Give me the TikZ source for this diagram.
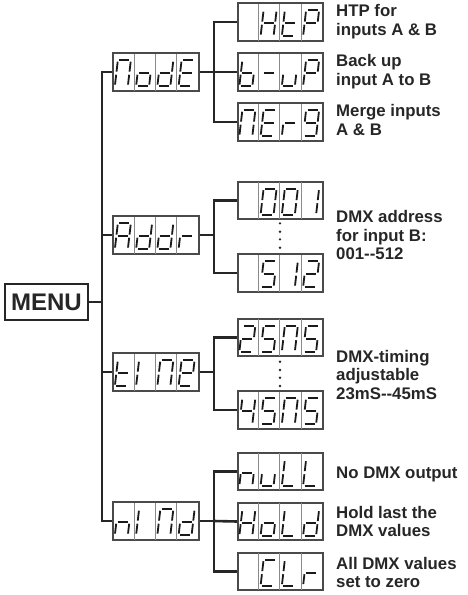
\documentclass[tikz,border=0pt]{standalone}
\usepackage{fontspec}
\setmainfont{Liberation Sans}
\definecolor{linec}{HTML}{262626}
\definecolor{boxc}{HTML}{4A4A4A}
\definecolor{divc}{HTML}{8A8A8A}
\definecolor{segc}{HTML}{1A1A1A}
\definecolor{textc}{HTML}{262626}
\def\sega{(0.12,1)--(0.88,1)}
\def\segb{(1,0.94)--(1,0.56)}
\def\segc{(1,0.44)--(1,0.06)}
\def\segd{(0.12,0)--(0.88,0)}
\def\sege{(0,0.44)--(0,0.06)}
\def\segf{(0,0.94)--(0,0.56)}
\def\segg{(0.12,0.5)--(0.88,0.5)}
\def\segz{}
\tikzset{
  conn/.style={draw=linec, line width=2.6pt},
  dispbox/.style={draw=boxc, line width=1.3pt, fill=white, minimum width=85pt, minimum height=37pt, inner sep=0pt},
  divline/.style={draw=divc, line width=0.8pt},
  seg/.style={draw=segc, line width=1.8pt, line cap=butt},
  desc/.style={anchor=base west, inner sep=0pt, text=textc, font=\bfseries\fontsize{16.8}{18}\selectfont},
  menubox/.style={draw=linec, line width=1.8pt, minimum width=83pt, minimum height=36pt, inner sep=0pt, text=textc, font=\bfseries\fontsize{24}{26}\selectfont},
  dotm/.style={fill=linec, draw=none},
}
\newcommand\disp[2]{%
  \foreach \k in {1,2,3} {\draw[divline] ([xshift=\k*21.25pt]#1.south west) -- ([xshift=\k*21.25pt]#1.north west);}
  \foreach \g [count=\i] in {#2} {%
    \begin{scope}[shift={(#1.south west)}, xshift={(\i-1)*21.25pt+2pt}, yshift=5pt, x={(13pt,0pt)}, y={(3pt,26pt)}]
      \foreach \s in \g {\edef\segtmp{\noexpand\draw[seg] \csname seg\s\endcsname;}\segtmp}
    \end{scope}}
  \draw[draw=boxc, line width=1.3pt] (#1.south west) rectangle (#1.north east);
}
\begin{document}
\begin{tikzpicture}[x=1pt, y=-1pt]
\useasboundingbox (0,0) rectangle (467,595);
% MENU and trunk
\node[menubox] (menu) at (46.5,302) {MENU};
\coordinate (tr) at (102,302);
% level 1
\node[dispbox] (mode) at (156,72) {};
\node[dispbox] (addr) at (156,235) {};
\node[dispbox] (time) at (156,372) {};
\node[dispbox] (nind) at (156,521) {};
% level 2
\node[dispbox] (htp) at (280.5,22) {};
\node[dispbox] (bup) at (280.5,72) {};
\node[dispbox] (merg) at (280.5,122) {};
\node[dispbox] (a001) at (280.5,200.5) {};
\node[dispbox] (a512) at (280.5,273) {};
\node[dispbox] (t25) at (280.5,337.5) {};
\node[dispbox] (t45) at (280.5,410) {};
\node[dispbox] (null) at (280.5,471.5) {};
\node[dispbox] (hold) at (280.5,521.5) {};
\node[dispbox] (clr) at (280.5,571.5) {};
% branch points
\coordinate (bm) at (214,72);
\coordinate (ba) at (214,235);
\coordinate (bt) at (214,372);
\coordinate (bn) at (214,521);
% connectors
\draw[conn] (menu.east) -- (tr);
\draw[conn] (mode.west) -| (tr);
\draw[conn] (nind.west) -| (tr);
\draw[conn] (addr.west) -- (addr.west -| tr);
\draw[conn] (time.west) -- (time.west -| tr);
\draw[conn] (mode.east) -- (bm);
\draw[conn] (htp.west) -| (bm);
\draw[conn] (merg.west) -| (bm);
\draw[conn] (bup.west) -- (bm);
\draw[conn] (addr.east) -- (ba);
\draw[conn] (a001.west) -| (ba);
\draw[conn] (a512.west) -| (ba);
\draw[conn] (time.east) -- (bt);
\draw[conn] (t25.west) -| (bt);
\draw[conn] (t45.west) -| (bt);
\draw[conn] (nind.east) -- (bn);
\draw[conn] (null.west) -| (bn);
\draw[conn] (clr.west) -| (bn);
\draw[conn] (hold.west) -- (bn);
% displays
\disp{mode}{{a,b,c,e,f},{c,d,e,g},{b,c,d,e,g},{a,d,e,f,g}}
\disp{addr}{{a,b,c,e,f,g},{b,c,d,e,g},{b,c,d,e,g},{e,g}}
\disp{time}{{d,e,f,g},{e,f},{a,b,c,e,f},{a,b,d,e,f,g}}
\disp{nind}{{c,e,g},{e,f},{a,b,c,e,f},{b,c,d,e,g}}
\disp{htp}{{z},{b,c,e,f,g},{d,e,f,g},{a,b,e,f,g}}
\disp{bup}{{c,d,e,f,g},{g},{c,d,e},{a,b,e,f,g}}
\disp{merg}{{a,b,c,e,f},{a,d,e,f,g},{e,g},{a,b,c,d,f,g}}
\disp{a001}{{z},{a,b,c,d,e,f},{a,b,c,d,e,f},{b,c}}
\disp{a512}{{z},{a,c,d,f,g},{b,c},{a,b,d,e,g}}
\disp{t25}{{a,b,d,e,g},{a,c,d,f,g},{a,b,c,e,f},{a,c,d,f,g}}
\disp{t45}{{b,c,f,g},{a,c,d,f,g},{a,b,c,e,f},{a,c,d,f,g}}
\disp{null}{{c,e,g},{c,d,e},{d,e,f},{d,e,f}}
\disp{hold}{{b,c,e,f,g},{c,d,e,g},{d,e,f},{b,c,d,e,g}}
\disp{clr}{{z},{a,d,e,f},{d,e,f},{e,g}}
% dots
\foreach \yy in {223.3,231.7,239.3,247.7} \fill[dotm] (280,\yy) circle (1.3pt);
\foreach \yy in {361.7,370,377.7,386} \fill[dotm] (280,\yy) circle (1.3pt);
% descriptions
\node[desc] (d1) at (336,16.7) {HTP for};
\node[desc] (d2) at (336,35) {inputs A \& B};
\node[desc] (d3) at (336,66) {Back up};
\node[desc] (d4) at (336,85) {input A to B};
\node[desc] (d5) at (336,116.7) {Merge inputs};
\node[desc] (d6) at (336,135) {A \& B};
\node[desc] (d7) at (336,222.3) {DMX address};
\node[desc] (d8) at (336,241) {for input B:};
\node[desc] (d9) at (336,259.3) {001-{}-512};
\node[desc] (d10) at (336,362.7) {DMX-timing};
\node[desc] (d11) at (336,380.8) {adjustable};
\node[desc] (d12) at (336,399.3) {23mS-{}-45mS};
\node[desc] (d13) at (336,478.3) {No DMX output};
\node[desc] (d14) at (336,518.3) {Hold last the};
\node[desc] (d15) at (336,536.7) {DMX values};
\node[desc] (d16) at (336,569) {All DMX values};
\node[desc] (d17) at (336,587.6) {set to zero};
\end{tikzpicture}
\end{document}
